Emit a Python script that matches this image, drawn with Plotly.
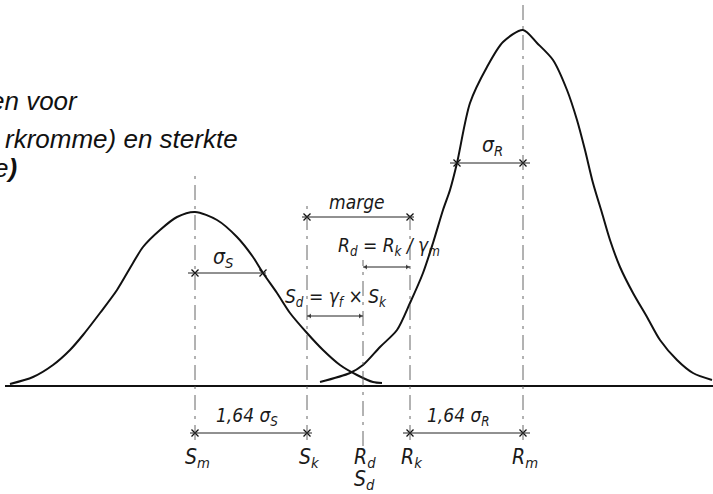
import plotly.graph_objects as go

# ---- data (x position, height above the baseline) ----
s_x = [10, 33, 53, 70, 83, 100, 117, 133, 143, 160, 177, 195, 217, 237, 253, 263, 277, 290, 307, 323, 340, 357, 373, 382]
s_h = [2, 9, 21, 36, 51, 73, 96, 123, 139, 156, 169, 174, 166, 149, 129, 113, 93, 73, 53, 36, 21, 11, 4, 3]

r_x = [320, 350, 363, 380, 397, 410, 423, 433, 443, 450, 457, 470, 487, 503, 523, 537, 553, 567, 577, 585, 593, 602, 610, 620, 633, 647, 660, 677, 693, 712]
r_h = [4, 13, 21, 39, 56, 83, 113, 143, 176, 196, 223, 283, 319, 344, 356, 343, 326, 296, 266, 236, 203, 173, 146, 119, 93, 69, 46, 26, 13, 6]

# characteristic values on the horizontal axis
S_m = 195
S_k = 307
S_d = 363
R_k = 410
R_m = 523
sigma_S_end = 263   # S_m + sigma_S
sigma_R_end = 457   # R_m - sigma_R

axis_labels = ["S<sub>m</sub>", "S<sub>k</sub>", "R<sub>d</sub>", "R<sub>k</sub>", "R<sub>m</sub>"]
axis_label_x = [S_m, S_k, S_d, R_k, R_m]

title_lines = ["en voor", "rkromme) en sterkte", "e<b>)</b>"]

# ---- styling ----
INK = "#111111"
THIN = "#555555"
FAM = "DejaVu Sans Condensed, Liberation Sans Narrow, sans-serif"
LBL = dict(family=FAM, size=19, color="#1a1a1a", style="italic")
LBL_BIG = dict(family=FAM, size=21, color="#1a1a1a", style="italic")
TITLE = dict(family="Liberation Sans, Arial, sans-serif", size=26, color="#111111", style="italic")

fig = go.Figure()

# baseline
fig.add_shape(type="line", x0=5, x1=713, y0=0, y1=0, line=dict(color=INK, width=2))

# centre lines
vlines = [(S_m, 216, -54), (S_k, 183, -54), (S_d, 126, -60), (R_k, 176, -54), (R_m, 381, -54)]
for x, top, bot in vlines:
    fig.add_shape(type="line", x0=x, x1=x, y0=bot, y1=top,
                  line=dict(color=THIN, width=0.9, dash="longdashdot"))

# density curves
fig.add_trace(go.Scatter(x=s_x, y=s_h, mode="lines", line=dict(color=INK, width=2, shape="spline", smoothing=0.8),
                         hoverinfo="skip", showlegend=False))
fig.add_trace(go.Scatter(x=r_x, y=r_h, mode="lines", line=dict(color=INK, width=2, shape="spline", smoothing=0.8),
                         hoverinfo="skip", showlegend=False))

# dimension lines with tick crosses: (height, x from, x to, tick positions)
dims_tick = [
    (113, S_m - 7, sigma_S_end + 3, [S_m, sigma_S_end]),
    (223, sigma_R_end - 7, R_m + 7, [sigma_R_end, R_m]),
    (169, S_k - 5, R_k + 4, [S_k, R_k]),
    (-47, S_m - 5, S_k + 5, [S_m, S_k]),
    (-47, R_k - 7, R_m + 7, [R_k, R_m]),
]
for h, xa, xb, ticks in dims_tick:
    fig.add_shape(type="line", x0=xa, x1=xb, y0=h, y1=h, line=dict(color="#222222", width=1))
    fig.add_trace(go.Scatter(x=ticks, y=[h] * len(ticks), mode="markers", cliponaxis=False,
                             marker=dict(symbol="x-thin", size=7, line=dict(color=INK, width=1.3)),
                             hoverinfo="skip", showlegend=False))

# dimension lines with arrowheads
dims_arrow = [(119, S_d, R_k), (70, S_k, S_d)]
for h, xa, xb in dims_arrow:
    fig.add_shape(type="line", x0=xa, x1=xb, y0=h, y1=h, line=dict(color="#222222", width=1))
    fig.add_trace(go.Scatter(x=[xa + 3, xb - 3], y=[h, h], mode="markers", cliponaxis=False,
                             marker=dict(symbol=["triangle-left", "triangle-right"], size=[6, 6], color=INK),
                             hoverinfo="skip", showlegend=False))

# labels
ann = []
def lab(x, y, t, font=LBL):
    ann.append(dict(x=x, y=y, text=t, showarrow=False, font=font, xref="x", yref="y"))

lab(223, 128, "σ<sub>S</sub>", LBL_BIG)
lab(492, 240, "σ<sub>R</sub>", LBL_BIG)
lab(357, 184, "marge")
lab(389, 140, "R<sub>d</sub> = R<sub>k</sub> / γ<sub>m</sub>")
lab(336, 89, "S<sub>d</sub> = γ<sub>f</sub> × S<sub>k</sub>")
lab(247, -30, "1,64 σ<sub>S</sub>")
lab(458, -30, "1,64 σ<sub>R</sub>")
for t, x in zip(axis_labels, axis_label_x):
    lab(x + 2, -72, t, LBL_BIG)
lab(S_d + 1, -94, "S<sub>d</sub>", LBL_BIG)

# cut-off caption text in the upper left corner
for t, (xr, yc) in zip(title_lines, [(80, 285), (240, 247), (19, 218)]):
    ann.append(dict(x=xr, y=yc, text=t, showarrow=False, font=TITLE, xref="x", yref="y",
                    xanchor="right", yanchor="middle"))

fig.update_layout(
    width=713, height=494,
    margin=dict(l=0, r=0, t=0, b=0),
    paper_bgcolor="white", plot_bgcolor="white",
    xaxis=dict(range=[0, 713], visible=False, fixedrange=True),
    yaxis=dict(range=[-108, 386], visible=False, fixedrange=True),
    annotations=ann,
    showlegend=False,
)

fig.write_html("out.html", config={"displayModeBar": False},
               post_script="document.body.style.margin='0px';document.body.style.overflow='hidden';")
